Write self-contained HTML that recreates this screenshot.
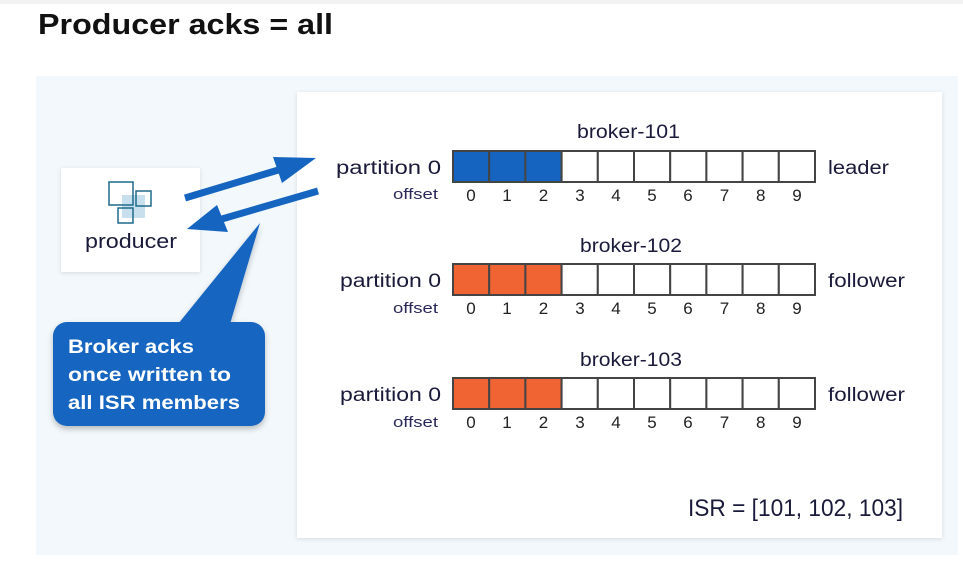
<!DOCTYPE html>
<html><head><meta charset="utf-8"><style>
html,body{margin:0;padding:0;background:#fff;width:963px;height:573px;overflow:hidden}
svg{display:block}
text{font-family:"Liberation Sans",sans-serif}
</style></head><body>
<svg width="963" height="573" viewBox="0 0 963 573">
<defs>
<filter id="sh" x="-10%" y="-10%" width="120%" height="130%"><feDropShadow dx="0" dy="3" stdDeviation="3" flood-color="#000" flood-opacity="0.25"/></filter>
<filter id="sh2" x="-5%" y="-5%" width="110%" height="110%"><feDropShadow dx="0" dy="1" stdDeviation="2" flood-color="#000" flood-opacity="0.12"/></filter>
</defs>
<rect x="0" y="0" width="963" height="4" fill="#f3f3f3"/>
<text x="38" y="34" font-size="29" font-weight="bold" fill="#111" textLength="295" lengthAdjust="spacingAndGlyphs">Producer acks = all</text>
<rect x="36" y="76" width="922" height="479" fill="#f2f8fc"/>
<rect x="297" y="92" width="645" height="446" fill="#fff" filter="url(#sh2)"/>
<!-- producer -->
<rect x="61" y="168" width="139" height="104" fill="#fff" filter="url(#sh2)"/>
<rect x="122" y="195" width="23" height="23" fill="#c8e0ee"/>
<rect x="109" y="182" width="24" height="23" fill="none" stroke="#1e6a8a" stroke-width="1.5"/>
<rect x="136" y="191" width="15" height="15" fill="none" stroke="#1e6a8a" stroke-width="1.5"/>
<rect x="118" y="208" width="15" height="15" fill="none" stroke="#1e6a8a" stroke-width="1.5"/>
<text x="85" y="248" font-size="20" fill="#1a1a3a" textLength="92" lengthAdjust="spacingAndGlyphs">producer</text>
<!-- arrows -->
<line x1="185" y1="198" x2="285" y2="168" stroke="#1565c0" stroke-width="7"/>
<polygon points="273,157 316,158 282,183" fill="#1565c0"/>
<line x1="318" y1="191" x2="215" y2="221" stroke="#1565c0" stroke-width="7"/>
<polygon points="187,229 217,205 228,232" fill="#1565c0"/>
<!-- callout -->
<g filter="url(#sh)">
<polygon points="178,324 230,324 260,223" fill="#1565c0"/>
<rect x="53" y="322" width="212" height="104" rx="14" fill="#1565c0"/>
</g>
<g font-size="19.5" font-weight="bold" fill="#fff">
<text x="68" y="353" textLength="126" lengthAdjust="spacingAndGlyphs">Broker acks</text>
<text x="68" y="381" textLength="163" lengthAdjust="spacingAndGlyphs">once written to</text>
<text x="68" y="409" textLength="172" lengthAdjust="spacingAndGlyphs">all ISR members</text>
</g>
<!-- rows -->
<g font-size="19" fill="#1a1a3a">
<text x="577" y="138" textLength="103" lengthAdjust="spacingAndGlyphs">broker-101</text>
<text x="580" y="252" textLength="102" lengthAdjust="spacingAndGlyphs">broker-102</text>
<text x="580" y="366" textLength="102" lengthAdjust="spacingAndGlyphs">broker-103</text>
<text x="336" y="174" textLength="105" lengthAdjust="spacingAndGlyphs">partition 0</text>
<text x="340" y="287" textLength="101" lengthAdjust="spacingAndGlyphs">partition 0</text>
<text x="340" y="401" textLength="101" lengthAdjust="spacingAndGlyphs">partition 0</text>
<text x="828" y="174" textLength="61" lengthAdjust="spacingAndGlyphs">leader</text>
<text x="828" y="287" textLength="77" lengthAdjust="spacingAndGlyphs">follower</text>
<text x="828" y="401" textLength="77" lengthAdjust="spacingAndGlyphs">follower</text>
<text x="688" y="516" font-size="24" textLength="215" lengthAdjust="spacingAndGlyphs">ISR = [101, 102, 103]</text>
</g>
<g font-size="15" fill="#2a2a5a">
<text x="393" y="199" textLength="45" lengthAdjust="spacingAndGlyphs">offset</text>
<text x="393" y="313" textLength="45" lengthAdjust="spacingAndGlyphs">offset</text>
<text x="393" y="427" textLength="45" lengthAdjust="spacingAndGlyphs">offset</text>
</g>
<g stroke="#444" stroke-width="2">
<rect x="453" y="151" width="36.2" height="31" fill="#1565c0"/>
<rect x="489.2" y="151" width="36.2" height="31" fill="#1565c0"/>
<rect x="525.4" y="151" width="36.2" height="31" fill="#1565c0"/>
<rect x="561.6" y="151" width="36.2" height="31" fill="#fff"/>
<rect x="597.8" y="151" width="36.2" height="31" fill="#fff"/>
<rect x="634" y="151" width="36.2" height="31" fill="#fff"/>
<rect x="670.2" y="151" width="36.2" height="31" fill="#fff"/>
<rect x="706.4" y="151" width="36.2" height="31" fill="#fff"/>
<rect x="742.6" y="151" width="36.2" height="31" fill="#fff"/>
<rect x="778.8" y="151" width="36.2" height="31" fill="#fff"/>
</g>
<g stroke="#444" stroke-width="2">
<rect x="453" y="264" width="36.2" height="31" fill="#f06433"/>
<rect x="489.2" y="264" width="36.2" height="31" fill="#f06433"/>
<rect x="525.4" y="264" width="36.2" height="31" fill="#f06433"/>
<rect x="561.6" y="264" width="36.2" height="31" fill="#fff"/>
<rect x="597.8" y="264" width="36.2" height="31" fill="#fff"/>
<rect x="634" y="264" width="36.2" height="31" fill="#fff"/>
<rect x="670.2" y="264" width="36.2" height="31" fill="#fff"/>
<rect x="706.4" y="264" width="36.2" height="31" fill="#fff"/>
<rect x="742.6" y="264" width="36.2" height="31" fill="#fff"/>
<rect x="778.8" y="264" width="36.2" height="31" fill="#fff"/>
</g>
<g stroke="#444" stroke-width="2">
<rect x="453" y="378" width="36.2" height="31" fill="#f06433"/>
<rect x="489.2" y="378" width="36.2" height="31" fill="#f06433"/>
<rect x="525.4" y="378" width="36.2" height="31" fill="#f06433"/>
<rect x="561.6" y="378" width="36.2" height="31" fill="#fff"/>
<rect x="597.8" y="378" width="36.2" height="31" fill="#fff"/>
<rect x="634" y="378" width="36.2" height="31" fill="#fff"/>
<rect x="670.2" y="378" width="36.2" height="31" fill="#fff"/>
<rect x="706.4" y="378" width="36.2" height="31" fill="#fff"/>
<rect x="742.6" y="378" width="36.2" height="31" fill="#fff"/>
<rect x="778.8" y="378" width="36.2" height="31" fill="#fff"/>
</g>
<g font-size="17" fill="#222" text-anchor="middle">
<text x="471" y="201">0</text><text x="507" y="201">1</text><text x="543.5" y="201">2</text><text x="580" y="201">3</text><text x="616" y="201">4</text><text x="652" y="201">5</text><text x="688" y="201">6</text><text x="724.5" y="201">7</text><text x="760.7" y="201">8</text><text x="797" y="201">9</text>
<text x="471" y="314">0</text><text x="507" y="314">1</text><text x="543.5" y="314">2</text><text x="580" y="314">3</text><text x="616" y="314">4</text><text x="652" y="314">5</text><text x="688" y="314">6</text><text x="724.5" y="314">7</text><text x="760.7" y="314">8</text><text x="797" y="314">9</text>
<text x="471" y="428">0</text><text x="507" y="428">1</text><text x="543.5" y="428">2</text><text x="580" y="428">3</text><text x="616" y="428">4</text><text x="652" y="428">5</text><text x="688" y="428">6</text><text x="724.5" y="428">7</text><text x="760.7" y="428">8</text><text x="797" y="428">9</text>
</g>
</svg>
</body></html>
